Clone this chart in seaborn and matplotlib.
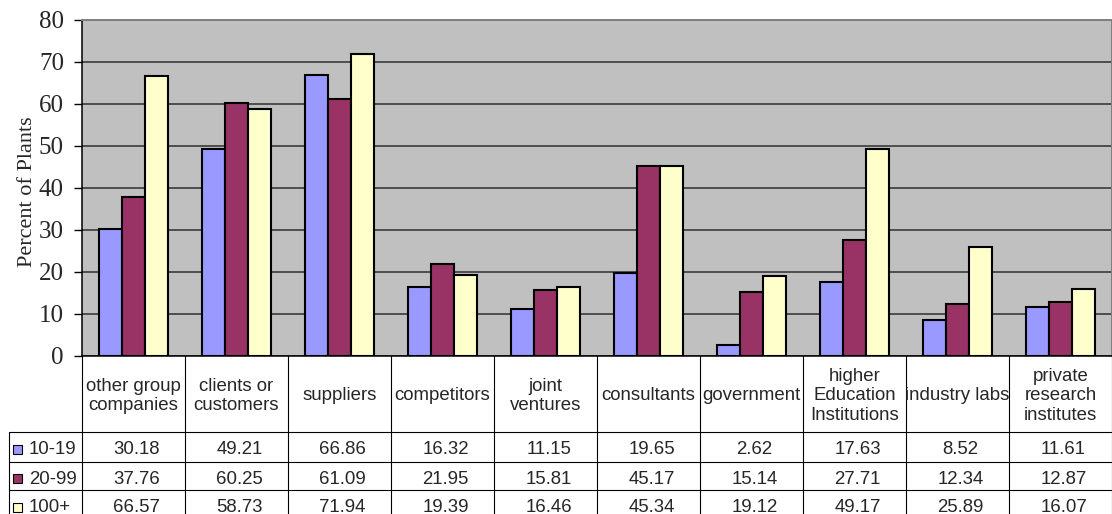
import numpy as np
import pandas as pd
import matplotlib
matplotlib.use("Agg")
import matplotlib.pyplot as plt
import seaborn as sns
from matplotlib.lines import Line2D
from matplotlib.patches import Rectangle
from matplotlib.transforms import Affine2D, Bbox, TransformedBbox, blended_transform_factory

# Sources of information, by plant size class
categories = [
    "other group\ncompanies", "clients or\ncustomers", "suppliers", "competitors",
    "joint\nventures", "consultants", "government", "higher\nEducation\nInstitutions",
    "industry labs", "private\nresearch\ninstitutes",
]
size_classes = ["10-19", "20-99", "100+"]
small = [30.18, 49.21, 66.86, 16.32, 11.15, 19.65, 2.62, 17.63, 8.52, 11.61]
medium = [37.76, 60.25, 61.09, 21.95, 15.81, 45.17, 15.14, 27.71, 12.34, 12.87]
large = [66.57, 58.73, 71.94, 19.39, 16.46, 45.34, 19.12, 49.17, 25.89, 16.07]
yticks = [0, 10, 20, 30, 40, 50, 60, 70, 80]
colors = ["#9999FF", "#993366", "#FFFFCC"]

series = [small, medium, large]
df = pd.DataFrame({
    "category": np.tile(categories, 3),
    "size": np.repeat(size_classes, len(categories)),
    "value": np.concatenate(series),
})

sns.set_style("white")
plt.rcParams["font.family"] = ["Liberation Sans", "DejaVu Sans"]

W, H = 1112, 514
fig = plt.figure(figsize=(W / 100, H / 100), dpi=100)
ax = fig.add_axes([82 / W, (H - 356) / H, 1030 / W, 336 / H])

sns.barplot(data=df, x="category", y="value", hue="size", order=categories,
            hue_order=size_classes, palette=colors, width=0.67, saturation=1,
            edgecolor="black", linewidth=1.5, ax=ax, legend=False, errorbar=None)

ax.set_facecolor("#C0C0C0")
ax.set_xlim(-0.5, len(categories) - 0.5)
ax.set_ylim(0, 80)
ax.set_yticks(yticks)
ax.set_yticklabels([str(t) for t in yticks], fontsize=18, family="Liberation Serif")
ax.tick_params(axis="y", direction="out", length=6, width=1, pad=7, color="black", left=True)
ax.tick_params(axis="x", bottom=False, labelbottom=False)
ax.set_xlabel("")
ax.set_ylabel("")
ax.yaxis.grid(True, color="#3a3a3a", linewidth=1.2)
ax.set_axisbelow(True)
for side in ("left", "bottom"):
    ax.spines[side].set_color("black")
    ax.spines[side].set_linewidth(1.1)
for side in ("top", "right"):
    ax.spines[side].set_color("#808080")
    ax.spines[side].set_linewidth(1.4)

ax.text(-0.053, 0.488, "Percent of Plants", transform=ax.transAxes, rotation=90,
        ha="center", va="center", fontsize=16, family="Liberation Serif")

# Data table underneath the bars (pixel rows measured from the top edge)
px = Affine2D().scale(1 / W, -1 / H).translate(0, 1) + fig.transFigure
col = blended_transform_factory(ax.transData, px)

table_top, header_bottom = 356, 432
row_lines = [header_bottom, 462, 490, 519]
row_left = 9
lw = 0.8
n = len(categories)

for i in range(n + 1):
    fig.add_artist(Line2D([i - 0.5, i - 0.5], [table_top, H + 5], transform=col,
                          color="black", lw=lw))
fig.add_artist(Line2D([row_left, row_left], [header_bottom, H + 5], transform=px,
                      color="black", lw=lw))
for y in row_lines[:-1]:
    fig.add_artist(Line2D([row_left, W + 2], [y, y], transform=px, color="black", lw=lw))

tfs = 13.4
for i, name in enumerate(categories):
    t = fig.text(i, 396, name, transform=col, ha="center", va="center",
                 fontsize=tfs, linespacing=1.2)
    t.set_clip_box(TransformedBbox(Bbox.from_extents(i - 0.5, table_top, i + 0.5, header_bottom), col))
    t.set_clip_on(True)

for r, (label, vals, c) in enumerate(zip(size_classes, series, colors)):
    y0, y1 = row_lines[r], row_lines[r + 1]
    yc = (y0 + y1) / 2 + 3
    fig.add_artist(Rectangle((13, yc - 5), 9, 9, transform=px, facecolor=c,
                             edgecolor="black", lw=0.8))
    fig.text(29, yc, label, transform=px, ha="left", va="center", fontsize=tfs)
    for i, v in enumerate(vals):
        fig.text(i + 0.03, yc, f"{v:.2f}", transform=col, ha="center", va="center",
                 fontsize=tfs)

fig.savefig("out.png", dpi=100, facecolor="white")
